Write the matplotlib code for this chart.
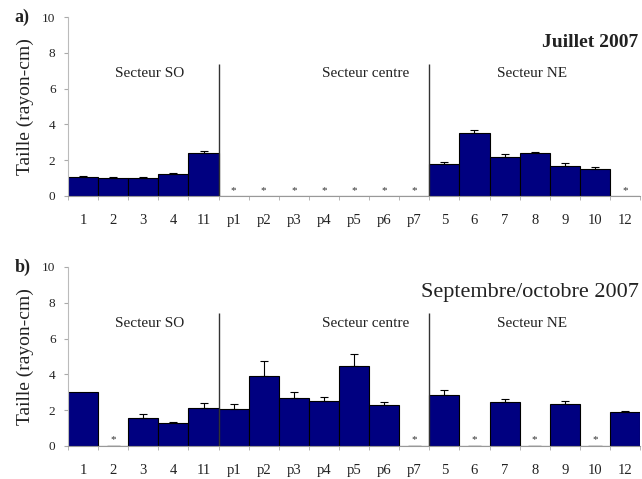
import numpy as np
import matplotlib.pyplot as plt

plt.rcParams['font.family'] = ['Liberation Serif', 'DejaVu Serif']

sites = ['1', '2', '3', '4', '11', 'p1', 'p2', 'p3', 'p4', 'p5', 'p6', 'p7',
         '5', '6', '7', '8', '9', '10', '12']

# July 2007 (None = no data, shown as *)
juil = [1.08, 0.99, 0.99, 1.23, 2.42, None, None, None, None, None, None, None,
        1.79, 3.50, 2.16, 2.38, 1.69, 1.49, None]
juil_err = [0.05, 0.05, 0.05, 0.05, 0.08, 0, 0, 0, 0, 0, 0, 0,
            0.10, 0.18, 0.19, 0.10, 0.13, 0.15, 0]

# Sept/Oct 2007 (0 = measured zero, shown with *)
sept = [3.03, 0, 1.54, 1.30, 2.14, 2.06, 3.90, 2.66, 2.50, 4.46, 2.29, 0,
        2.83, 0, 2.47, 0, 2.34, 0, 1.88]
sept_err = [0, 0, 0.24, 0.05, 0.24, 0.30, 0.84, 0.37, 0.25, 0.65, 0.18, 0,
            0.30, 0, 0.13, 0, 0.18, 0, 0.05]

sectors = ['Secteur SO', 'Secteur centre', 'Secteur NE']
sector_x = [2.2, 9.4, 14.9]
separators = [4.5, 11.5]

fig = plt.figure(figsize=(6.42, 4.79), dpi=100)
ax_a = fig.add_axes([0.106, 0.591, 0.891, 0.3735])
ax_b = fig.add_axes([0.106, 0.069, 0.891, 0.3737])

x = np.arange(len(sites))
navy = '#000080'


def draw(ax, vals, errs, title, letter, bold_title):
    h = [v if v is not None else 0 for v in vals]
    ax.bar(x, h, width=1.0, color=navy, edgecolor='black', linewidth=0.8, zorder=2)
    for i, (v, e) in enumerate(zip(vals, errs)):
        if v is None:
            ax.text(i, 0.3, '*', ha='center', va='center', fontsize=8, color='#333333')
        elif v == 0:
            ax.text(i, 0.35, '*', ha='center', va='center', fontsize=8, color='#333333')
            ax.hlines(0, i - 0.22, i + 0.22, color='#555555', lw=1, zorder=3)
        elif e > 0:
            ax.errorbar(i, v, yerr=[[0], [e]], fmt='none', ecolor='black',
                        elinewidth=0.8, capsize=3, capthick=0.8, zorder=3)
    for s in separators:
        ax.vlines(s, 0, 7.4, color='#333333', lw=1, zorder=3)
    for name, sx in zip(sectors, sector_x):
        ax.text(sx, 6.85, name, ha='center', va='center', fontsize=11, color='#222222')
    ax.text(18.45, 8.6, title, ha='right', va='center', fontsize=16 if not bold_title else 14,
            fontweight='bold' if bold_title else 'normal', color='#222222')
    ax.set_xlim(-0.5, 18.5)
    ax.set_ylim(0, 10)
    ax.set_yticks([0, 2, 4, 6, 8, 10])
    ax.set_xticks(x)
    ax.set_xticklabels(sites, fontsize=10.5, color='#222222')
    ax.set_xticks(np.arange(-0.5, 19, 1), minor=True)
    ax.tick_params(axis='x', which='major', length=0, pad=13)
    ax.tick_params(axis='x', which='minor', length=3, color='#aaaaaa')
    ax.tick_params(axis='y', length=3, color='#aaaaaa', labelsize=9.5, labelcolor='#222222',
                   pad=6)
    for sp in ['top', 'right']:
        ax.spines[sp].set_visible(False)
    ax.spines['left'].set_color('#bbbbbb')
    ax.spines['bottom'].set_color('#999999')
    ax.set_ylabel('Taille (rayon-cm)', fontsize=14, color='#222222', labelpad=6)
    ax.text(-0.094, 1.0, letter, transform=ax.transAxes, ha='left', va='center',
            fontsize=13, fontweight='bold', color='#222222')


draw(ax_a, juil, juil_err, 'Juillet 2007', 'a)', True)
draw(ax_b, sept, sept_err, 'Septembre/octobre 2007', 'b)', False)

fig.savefig('out.png', dpi=100)
